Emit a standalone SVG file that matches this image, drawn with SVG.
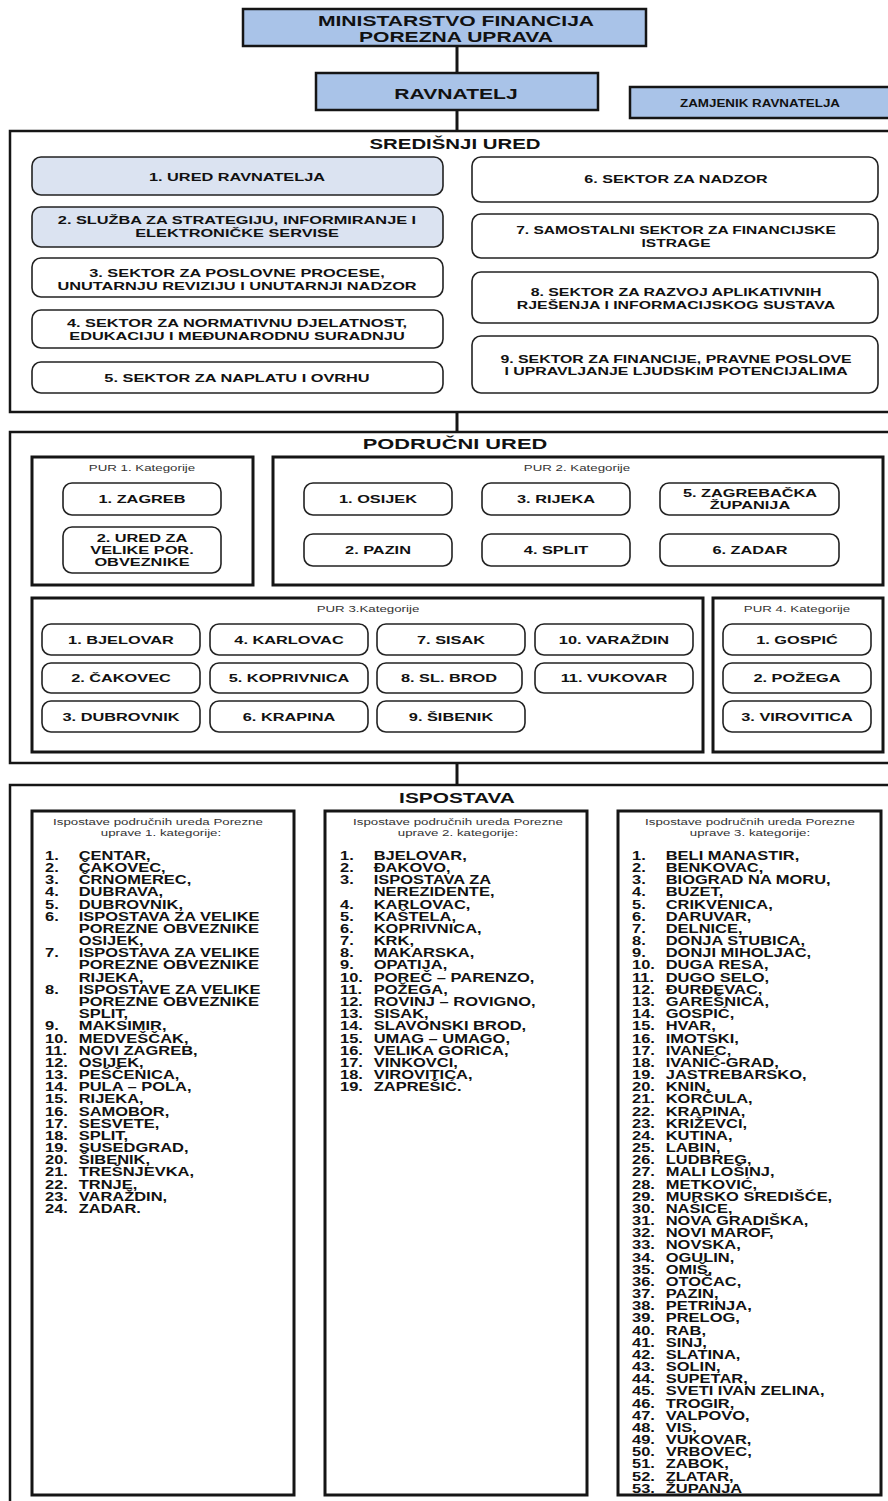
<svg xmlns="http://www.w3.org/2000/svg" width="888" height="1501" viewBox="0 0 888 1501">
<style>
  text { font-family: "Liberation Sans", Arial, sans-serif; fill: #111; }
  .b { font-weight: bold; text-anchor: middle; }
  .h { font-size: 15.4px; }
  .n { font-size: 11.5px; }
  .lbl { font-size: 9.5px; text-anchor: middle; fill: #333; }
  .lst { font-size: 12.2px; font-weight: bold; }
  .top { fill: #a9c3e8; stroke: #151515; stroke-width: 2.5; }
  .sec { fill: #fff; stroke: #151515; stroke-width: 2.5; }
  .grp { fill: #fff; stroke: #151515; stroke-width: 3; }
  .rb { fill: #fff; stroke: #222; stroke-width: 1.6; }
  .rbb { fill: #dbe3f1; stroke: #222; stroke-width: 1.6; }
  .con { stroke: #151515; stroke-width: 3; fill: none; }
</style>

<g id="connectors">
  <line class="con" x1="457" y1="46" x2="457" y2="73"/>
  <line class="con" x1="457" y1="110" x2="457" y2="131"/>
  <line class="con" x1="457" y1="412" x2="457" y2="432"/>
  <line class="con" x1="457" y1="763" x2="457" y2="785"/>
</g>

<g id="ministarstvo">
  <rect class="top" x="243" y="9" width="403" height="37"/>
  <text class="b h" transform="translate(456,26) scale(1.37,1)">MINISTARSTVO FINANCIJA</text>
  <text class="b h" transform="translate(456,42) scale(1.37,1)">POREZNA UPRAVA</text>
</g>

<g id="ravnatelj">
  <rect class="top" x="316" y="73" width="282" height="37"/>
  <text class="b h" transform="translate(456,99) scale(1.37,1)">RAVNATELJ</text>
</g>

<g id="zamjenik">
  <rect class="top" x="630" y="87" width="262" height="31"/>
  <text class="b" x="760" y="107" font-size="10.5" textLength="160" lengthAdjust="spacingAndGlyphs">ZAMJENIK RAVNATELJA</text>
</g>

<g id="sredisnji-ured">
  <rect class="sec" x="10" y="131" width="884" height="281"/>
  <text class="b" font-size="15" transform="translate(455,149) scale(1.36,1)">SREDIŠNJI URED</text>
</g>

<g id="s1">
  <rect class="rbb" x="32" y="157" width="411" height="38" rx="9"/>
  <text class="b n" transform="translate(237,181) scale(1.42,1)">1. URED RAVNATELJA</text>
</g>
<g id="s2">
  <rect class="rbb" x="32" y="207" width="411" height="40" rx="9"/>
  <text class="b n" transform="translate(237,224) scale(1.42,1)">2. SLUŽBA ZA STRATEGIJU, INFORMIRANJE I</text>
  <text class="b n" transform="translate(237,236.5) scale(1.42,1)">ELEKTRONIČKE SERVISE</text>
</g>
<g id="s3">
  <rect class="rb" x="32" y="258" width="411" height="39" rx="9"/>
  <text class="b n" transform="translate(237,276.7) scale(1.42,1)">3. SEKTOR ZA POSLOVNE PROCESE,</text>
  <text class="b n" transform="translate(237,289.5) scale(1.42,1)">UNUTARNJU REVIZIJU I UNUTARNJI NADZOR</text>
</g>
<g id="s4">
  <rect class="rb" x="32" y="310" width="411" height="38" rx="9"/>
  <text class="b n" transform="translate(237,326.7) scale(1.42,1)">4. SEKTOR ZA NORMATIVNU DJELATNOST,</text>
  <text class="b n" transform="translate(237,339.5) scale(1.42,1)">EDUKACIJU I MEĐUNARODNU SURADNJU</text>
</g>
<g id="s5">
  <rect class="rb" x="32" y="362" width="411" height="31" rx="9"/>
  <text class="b n" transform="translate(237,382) scale(1.42,1)">5. SEKTOR ZA NAPLATU I OVRHU</text>
</g>
<g id="s6">
  <rect class="rb" x="472" y="157" width="406" height="45" rx="9"/>
  <text class="b n" transform="translate(676,183) scale(1.4,1)">6. SEKTOR ZA NADZOR</text>
</g>
<g id="s7">
  <rect class="rb" x="472" y="214" width="406" height="44" rx="9"/>
  <text class="b n" transform="translate(676,234) scale(1.35,1)">7. SAMOSTALNI SEKTOR ZA FINANCIJSKE</text>
  <text class="b n" transform="translate(676,247) scale(1.35,1)">ISTRAGE</text>
</g>
<g id="s8">
  <rect class="rb" x="472" y="272" width="406" height="51" rx="9"/>
  <text class="b n" transform="translate(676,296) scale(1.38,1)">8. SEKTOR ZA RAZVOJ APLIKATIVNIH</text>
  <text class="b n" transform="translate(676,308.5) scale(1.38,1)">RJEŠENJA I INFORMACIJSKOG SUSTAVA</text>
</g>
<g id="s9">
  <rect class="rb" x="472" y="336" width="406" height="57" rx="9"/>
  <text class="b n" transform="translate(676,363) scale(1.38,1)">9. SEKTOR ZA FINANCIJE, PRAVNE POSLOVE</text>
  <text class="b n" transform="translate(676,375) scale(1.38,1)">I UPRAVLJANJE LJUDSKIM POTENCIJALIMA</text>
</g>

<g id="podrucni-ured">
  <rect class="sec" x="10" y="432" width="884" height="331"/>
  <text class="b" font-size="15.5" transform="translate(455,449) scale(1.41,1)">PODRUČNI URED</text>
</g>

<g id="pur1">
  <rect class="grp" x="32" y="457" width="221" height="128"/>
  <text class="lbl" transform="translate(142,470.5) scale(1.4,1)">PUR 1. Kategorije</text>
  <rect class="rb" x="63" y="483" width="158" height="32" rx="9"/>
  <text class="b n" transform="translate(142,503) scale(1.42,1)">1. ZAGREB</text>
  <rect class="rb" x="63" y="527" width="158" height="46" rx="9"/>
  <text class="b n" transform="translate(142,542) scale(1.42,1)">2. URED ZA</text>
  <text class="b n" transform="translate(142,554) scale(1.42,1)">VELIKE POR.</text>
  <text class="b n" transform="translate(142,566) scale(1.42,1)">OBVEZNIKE</text>
</g>

<g id="pur2">
  <rect class="grp" x="273" y="457" width="610" height="128"/>
  <text class="lbl" transform="translate(577,470.5) scale(1.4,1)">PUR 2. Kategorije</text>
  <rect class="rb" x="304" y="483" width="148" height="32" rx="9"/>
  <text class="b n" transform="translate(378,503) scale(1.42,1)">1. OSIJEK</text>
  <rect class="rb" x="482" y="483" width="148" height="32" rx="9"/>
  <text class="b n" transform="translate(556,503) scale(1.42,1)">3. RIJEKA</text>
  <rect class="rb" x="660" y="483" width="179" height="32" rx="9"/>
  <text class="b n" transform="translate(750,497) scale(1.42,1)">5. ZAGREBAČKA</text>
  <text class="b n" transform="translate(750,509) scale(1.42,1)">ŽUPANIJA</text>
  <rect class="rb" x="304" y="534" width="148" height="32" rx="9"/>
  <text class="b n" transform="translate(378,554) scale(1.42,1)">2. PAZIN</text>
  <rect class="rb" x="482" y="534" width="148" height="32" rx="9"/>
  <text class="b n" transform="translate(556,554) scale(1.42,1)">4. SPLIT</text>
  <rect class="rb" x="660" y="534" width="179" height="32" rx="9"/>
  <text class="b n" transform="translate(750,554) scale(1.42,1)">6. ZADAR</text>
</g>

<g id="pur3">
  <rect class="grp" x="32" y="598" width="671" height="154"/>
  <text class="lbl" transform="translate(368,611.5) scale(1.4,1)">PUR 3.Kategorije</text>
  <rect class="rb" x="42" y="624" width="158" height="31" rx="9"/>
  <text class="b n" transform="translate(121,644) scale(1.42,1)">1. BJELOVAR</text>
  <rect class="rb" x="210" y="624" width="158" height="31" rx="9"/>
  <text class="b n" transform="translate(289,644) scale(1.42,1)">4. KARLOVAC</text>
  <rect class="rb" x="377" y="624" width="148" height="31" rx="9"/>
  <text class="b n" transform="translate(451,644) scale(1.42,1)">7. SISAK</text>
  <rect class="rb" x="535" y="624" width="158" height="31" rx="9"/>
  <text class="b n" transform="translate(614,644) scale(1.42,1)">10. VARAŽDIN</text>
  <rect class="rb" x="42" y="663" width="158" height="30" rx="9"/>
  <text class="b n" transform="translate(121,682) scale(1.42,1)">2. ČAKOVEC</text>
  <rect class="rb" x="210" y="663" width="158" height="30" rx="9"/>
  <text class="b n" transform="translate(289,682) scale(1.42,1)">5. KOPRIVNICA</text>
  <rect class="rb" x="377" y="663" width="145" height="30" rx="9"/>
  <text class="b n" transform="translate(449,682) scale(1.42,1)">8. SL. BROD</text>
  <rect class="rb" x="535" y="663" width="158" height="30" rx="9"/>
  <text class="b n" transform="translate(614,682) scale(1.42,1)">11. VUKOVAR</text>
  <rect class="rb" x="42" y="701" width="158" height="31" rx="9"/>
  <text class="b n" transform="translate(121,721) scale(1.42,1)">3. DUBROVNIK</text>
  <rect class="rb" x="210" y="701" width="158" height="31" rx="9"/>
  <text class="b n" transform="translate(289,721) scale(1.42,1)">6. KRAPINA</text>
  <rect class="rb" x="377" y="701" width="148" height="31" rx="9"/>
  <text class="b n" transform="translate(451,721) scale(1.42,1)">9. ŠIBENIK</text>
</g>

<g id="pur4">
  <rect class="grp" x="713" y="598" width="170" height="154"/>
  <text class="lbl" transform="translate(797,611.5) scale(1.4,1)">PUR 4. Kategorije</text>
  <rect class="rb" x="723" y="624" width="148" height="31" rx="9"/>
  <text class="b n" transform="translate(797,644) scale(1.42,1)">1. GOSPIĆ</text>
  <rect class="rb" x="723" y="663" width="148" height="30" rx="9"/>
  <text class="b n" transform="translate(797,682) scale(1.42,1)">2. POŽEGA</text>
  <rect class="rb" x="723" y="701" width="148" height="31" rx="9"/>
  <text class="b n" transform="translate(797,721) scale(1.42,1)">3. VIROVITICA</text>
</g>

<g id="ispostava">
  <rect class="sec" x="10" y="785" width="884" height="730"/>
  <text class="b" font-size="15" transform="translate(457,803) scale(1.39,1)">ISPOSTAVA</text>
</g>

<g id="isp1">
  <rect class="grp" x="32" y="811" width="262" height="684"/>
  <text class="lbl" transform="translate(158,825) scale(1.4,1)">Ispostave područnih ureda Porezne</text>
  <text class="lbl" transform="translate(161,836) scale(1.4,1)">uprave 1. kategorije:</text>
  <g transform="translate(45,0) scale(1.35,1)">
    <text class="lst">
      <tspan x="0" y="860">1.</tspan><tspan x="0" y="872.2">2.</tspan><tspan x="0" y="884.3">3.</tspan><tspan x="0" y="896.5">4.</tspan><tspan x="0" y="908.7">5.</tspan><tspan x="0" y="920.9">6.</tspan><tspan x="0" y="957.4">7.</tspan><tspan x="0" y="993.9">8.</tspan><tspan x="0" y="1030.4">9.</tspan><tspan x="0" y="1042.6">10.</tspan><tspan x="0" y="1054.7">11.</tspan><tspan x="0" y="1066.9">12.</tspan><tspan x="0" y="1079.1">13.</tspan><tspan x="0" y="1091.2">14.</tspan><tspan x="0" y="1103.4">15.</tspan><tspan x="0" y="1115.6">16.</tspan><tspan x="0" y="1127.7">17.</tspan><tspan x="0" y="1139.9">18.</tspan><tspan x="0" y="1152.1">19.</tspan><tspan x="0" y="1164.3">20.</tspan><tspan x="0" y="1176.4">21.</tspan><tspan x="0" y="1188.6">22.</tspan><tspan x="0" y="1200.8">23.</tspan><tspan x="0" y="1212.9">24.</tspan>
    </text>
    <text class="lst">
      <tspan x="25" y="860">CENTAR,</tspan><tspan x="25" y="872.2">ČAKOVEC,</tspan><tspan x="25" y="884.3">ČRNOMEREC,</tspan><tspan x="25" y="896.5">DUBRAVA,</tspan><tspan x="25" y="908.7">DUBROVNIK,</tspan><tspan x="25" y="920.9">ISPOSTAVA ZA VELIKE</tspan><tspan x="25" y="933">POREZNE OBVEZNIKE</tspan><tspan x="25" y="945.2">OSIJEK,</tspan><tspan x="25" y="957.4">ISPOSTAVA ZA VELIKE</tspan><tspan x="25" y="969.5">POREZNE OBVEZNIKE</tspan><tspan x="25" y="981.7">RIJEKA,</tspan><tspan x="25" y="993.9">ISPOSTAVE ZA VELIKE</tspan><tspan x="25" y="1006">POREZNE OBVEZNIKE</tspan><tspan x="25" y="1018.2">SPLIT,</tspan><tspan x="25" y="1030.4">MAKSIMIR,</tspan><tspan x="25" y="1042.6">MEDVEŠČAK,</tspan><tspan x="25" y="1054.7">NOVI ZAGREB,</tspan><tspan x="25" y="1066.9">OSIJEK,</tspan><tspan x="25" y="1079.1">PEŠČENICA,</tspan><tspan x="25" y="1091.2">PULA – POLA,</tspan><tspan x="25" y="1103.4">RIJEKA,</tspan><tspan x="25" y="1115.6">SAMOBOR,</tspan><tspan x="25" y="1127.7">SESVETE,</tspan><tspan x="25" y="1139.9">SPLIT,</tspan><tspan x="25" y="1152.1">SUSEDGRAD,</tspan><tspan x="25" y="1164.3">ŠIBENIK,</tspan><tspan x="25" y="1176.4">TREŠNJEVKA,</tspan><tspan x="25" y="1188.6">TRNJE,</tspan><tspan x="25" y="1200.8">VARAŽDIN,</tspan><tspan x="25" y="1212.9">ZADAR.</tspan>
    </text>
  </g>
</g>

<g id="isp2">
  <rect class="grp" x="325" y="811" width="262" height="684"/>
  <text class="lbl" transform="translate(458,825) scale(1.4,1)">Ispostave područnih ureda Porezne</text>
  <text class="lbl" transform="translate(458,836) scale(1.4,1)">uprave 2. kategorije:</text>
  <g transform="translate(340,0) scale(1.35,1)">
    <text class="lst">
      <tspan x="0" y="860">1.</tspan><tspan x="0" y="872.2">2.</tspan><tspan x="0" y="884.3">3.</tspan><tspan x="0" y="908.7">4.</tspan><tspan x="0" y="920.9">5.</tspan><tspan x="0" y="933">6.</tspan><tspan x="0" y="945.2">7.</tspan><tspan x="0" y="957.4">8.</tspan><tspan x="0" y="969.5">9.</tspan><tspan x="0" y="981.7">10.</tspan><tspan x="0" y="993.9">11.</tspan><tspan x="0" y="1006">12.</tspan><tspan x="0" y="1018.2">13.</tspan><tspan x="0" y="1030.4">14.</tspan><tspan x="0" y="1042.6">15.</tspan><tspan x="0" y="1054.7">16.</tspan><tspan x="0" y="1066.9">17.</tspan><tspan x="0" y="1079.1">18.</tspan><tspan x="0" y="1091.2">19.</tspan>
    </text>
    <text class="lst">
      <tspan x="25" y="860">BJELOVAR,</tspan><tspan x="25" y="872.2">ĐAKOVO,</tspan><tspan x="25" y="884.3">ISPOSTAVA ZA</tspan><tspan x="25" y="896.5">NEREZIDENTE,</tspan><tspan x="25" y="908.7">KARLOVAC,</tspan><tspan x="25" y="920.9">KAŠTELA,</tspan><tspan x="25" y="933">KOPRIVNICA,</tspan><tspan x="25" y="945.2">KRK,</tspan><tspan x="25" y="957.4">MAKARSKA,</tspan><tspan x="25" y="969.5">OPATIJA,</tspan><tspan x="25" y="981.7">POREČ – PARENZO,</tspan><tspan x="25" y="993.9">POŽEGA,</tspan><tspan x="25" y="1006">ROVINJ – ROVIGNO,</tspan><tspan x="25" y="1018.2">SISAK,</tspan><tspan x="25" y="1030.4">SLAVONSKI BROD,</tspan><tspan x="25" y="1042.6">UMAG – UMAGO,</tspan><tspan x="25" y="1054.7">VELIKA GORICA,</tspan><tspan x="25" y="1066.9">VINKOVCI,</tspan><tspan x="25" y="1079.1">VIROVITICA,</tspan><tspan x="25" y="1091.2">ZAPREŠIĆ.</tspan>
    </text>
  </g>
</g>

<g id="isp3">
  <rect class="grp" x="618" y="811" width="263" height="684"/>
  <text class="lbl" transform="translate(750,825) scale(1.4,1)">Ispostave područnih ureda Porezne</text>
  <text class="lbl" transform="translate(750,836) scale(1.4,1)">uprave 3. kategorije:</text>
  <g transform="translate(632,0) scale(1.35,1)">
    <text class="lst">
      <tspan x="0" y="860">1.</tspan><tspan x="0" y="872.2">2.</tspan><tspan x="0" y="884.3">3.</tspan><tspan x="0" y="896.5">4.</tspan><tspan x="0" y="908.7">5.</tspan><tspan x="0" y="920.9">6.</tspan><tspan x="0" y="933">7.</tspan><tspan x="0" y="945.2">8.</tspan><tspan x="0" y="957.4">9.</tspan><tspan x="0" y="969.5">10.</tspan><tspan x="0" y="981.7">11.</tspan><tspan x="0" y="993.9">12.</tspan><tspan x="0" y="1006">13.</tspan><tspan x="0" y="1018.2">14.</tspan><tspan x="0" y="1030.4">15.</tspan><tspan x="0" y="1042.6">16.</tspan><tspan x="0" y="1054.7">17.</tspan><tspan x="0" y="1066.9">18.</tspan><tspan x="0" y="1079.1">19.</tspan><tspan x="0" y="1091.2">20.</tspan><tspan x="0" y="1103.4">21.</tspan><tspan x="0" y="1115.6">22.</tspan><tspan x="0" y="1127.7">23.</tspan><tspan x="0" y="1139.9">24.</tspan><tspan x="0" y="1152.1">25.</tspan><tspan x="0" y="1164.3">26.</tspan><tspan x="0" y="1176.4">27.</tspan><tspan x="0" y="1188.6">28.</tspan><tspan x="0" y="1200.8">29.</tspan><tspan x="0" y="1212.9">30.</tspan><tspan x="0" y="1225.1">31.</tspan><tspan x="0" y="1237.3">32.</tspan><tspan x="0" y="1249.4">33.</tspan><tspan x="0" y="1261.6">34.</tspan><tspan x="0" y="1273.8">35.</tspan><tspan x="0" y="1286">36.</tspan><tspan x="0" y="1298.1">37.</tspan><tspan x="0" y="1310.3">38.</tspan><tspan x="0" y="1322.5">39.</tspan><tspan x="0" y="1334.6">40.</tspan><tspan x="0" y="1346.8">41.</tspan><tspan x="0" y="1359">42.</tspan><tspan x="0" y="1371.1">43.</tspan><tspan x="0" y="1383.3">44.</tspan><tspan x="0" y="1395.5">45.</tspan><tspan x="0" y="1407.7">46.</tspan><tspan x="0" y="1419.8">47.</tspan><tspan x="0" y="1432">48.</tspan><tspan x="0" y="1444.2">49.</tspan><tspan x="0" y="1456.3">50.</tspan><tspan x="0" y="1468.5">51.</tspan><tspan x="0" y="1480.7">52.</tspan><tspan x="0" y="1492.8">53.</tspan>
    </text>
    <text class="lst">
      <tspan x="25" y="860">BELI MANASTIR,</tspan><tspan x="25" y="872.2">BENKOVAC,</tspan><tspan x="25" y="884.3">BIOGRAD NA MORU,</tspan><tspan x="25" y="896.5">BUZET,</tspan><tspan x="25" y="908.7">CRIKVENICA,</tspan><tspan x="25" y="920.9">DARUVAR,</tspan><tspan x="25" y="933">DELNICE,</tspan><tspan x="25" y="945.2">DONJA STUBICA,</tspan><tspan x="25" y="957.4">DONJI MIHOLJAC,</tspan><tspan x="25" y="969.5">DUGA RESA,</tspan><tspan x="25" y="981.7">DUGO SELO,</tspan><tspan x="25" y="993.9">ĐURĐEVAC,</tspan><tspan x="25" y="1006">GAREŠNICA,</tspan><tspan x="25" y="1018.2">GOSPIĆ,</tspan><tspan x="25" y="1030.4">HVAR,</tspan><tspan x="25" y="1042.6">IMOTSKI,</tspan><tspan x="25" y="1054.7">IVANEC,</tspan><tspan x="25" y="1066.9">IVANIĆ-GRAD,</tspan><tspan x="25" y="1079.1">JASTREBARSKO,</tspan><tspan x="25" y="1091.2">KNIN,</tspan><tspan x="25" y="1103.4">KORČULA,</tspan><tspan x="25" y="1115.6">KRAPINA,</tspan><tspan x="25" y="1127.7">KRIŽEVCI,</tspan><tspan x="25" y="1139.9">KUTINA,</tspan><tspan x="25" y="1152.1">LABIN,</tspan><tspan x="25" y="1164.3">LUDBREG,</tspan><tspan x="25" y="1176.4">MALI  LOŠINJ,</tspan><tspan x="25" y="1188.6">METKOVIĆ,</tspan><tspan x="25" y="1200.8">MURSKO SREDIŠĆE,</tspan><tspan x="25" y="1212.9">NAŠICE,</tspan><tspan x="25" y="1225.1">NOVA GRADIŠKA,</tspan><tspan x="25" y="1237.3">NOVI MAROF,</tspan><tspan x="25" y="1249.4">NOVSKA,</tspan><tspan x="25" y="1261.6">OGULIN,</tspan><tspan x="25" y="1273.8">OMIŠ,</tspan><tspan x="25" y="1286">OTOČAC,</tspan><tspan x="25" y="1298.1">PAZIN,</tspan><tspan x="25" y="1310.3">PETRINJA,</tspan><tspan x="25" y="1322.5">PRELOG,</tspan><tspan x="25" y="1334.6">RAB,</tspan><tspan x="25" y="1346.8">SINJ,</tspan><tspan x="25" y="1359">SLATINA,</tspan><tspan x="25" y="1371.1">SOLIN,</tspan><tspan x="25" y="1383.3">SUPETAR,</tspan><tspan x="25" y="1395.5">SVETI IVAN ZELINA,</tspan><tspan x="25" y="1407.7">TROGIR,</tspan><tspan x="25" y="1419.8">VALPOVO,</tspan><tspan x="25" y="1432">VIS,</tspan><tspan x="25" y="1444.2">VUKOVAR,</tspan><tspan x="25" y="1456.3">VRBOVEC,</tspan><tspan x="25" y="1468.5">ZABOK,</tspan><tspan x="25" y="1480.7">ZLATAR,</tspan><tspan x="25" y="1492.8">ŽUPANJA</tspan>
    </text>
  </g>
</g>
</svg>
